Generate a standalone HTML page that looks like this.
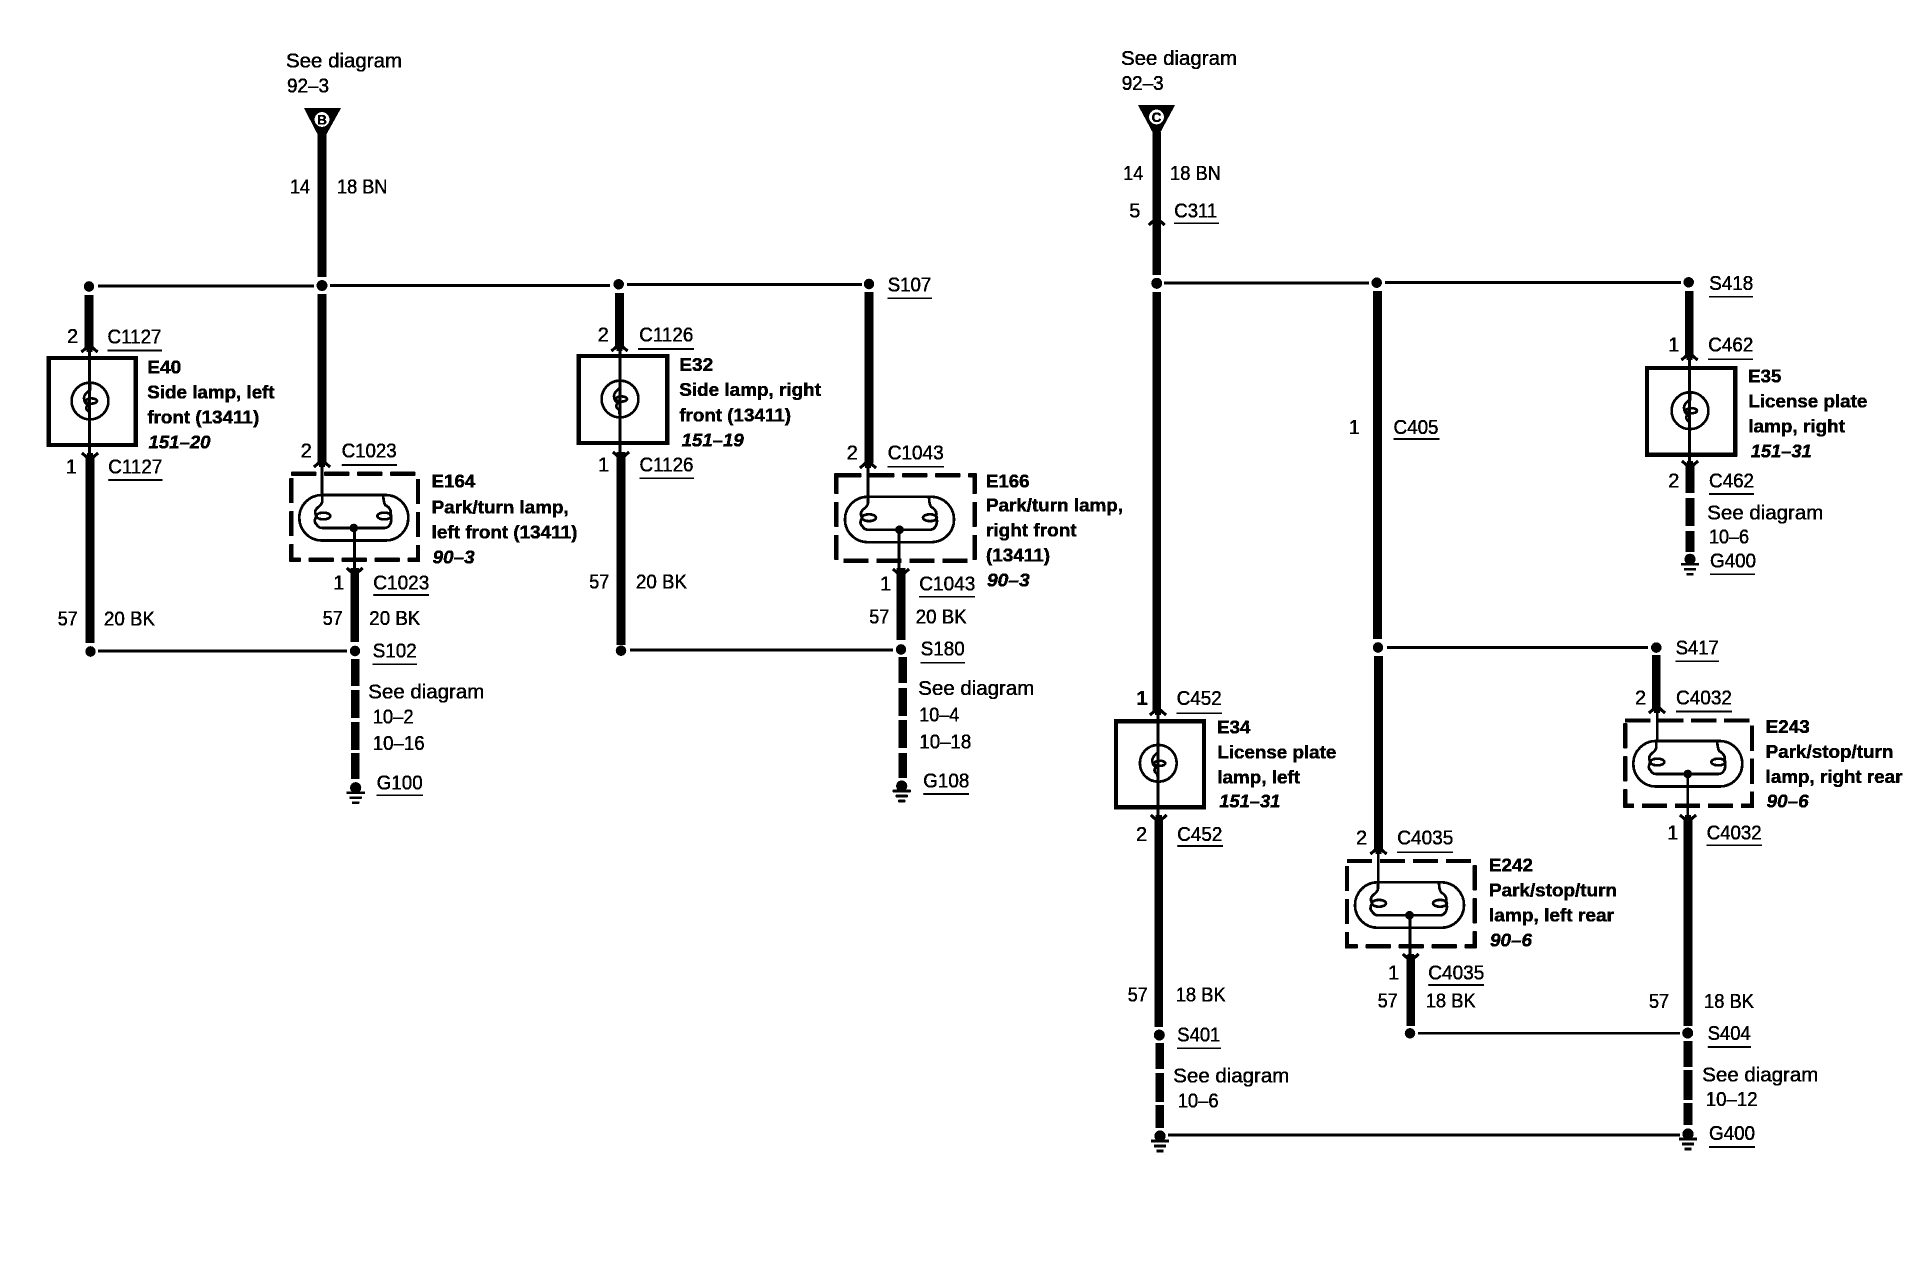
<!DOCTYPE html>
<html><head><meta charset="utf-8"><title>Wiring diagram</title>
<style>
html,body{margin:0;padding:0;background:#fff}
svg{display:block}
text{font-family:"Liberation Sans",sans-serif;font-size:20px;fill:#000;stroke:#000;stroke-width:.3px}
.b{font-weight:bold;font-size:18.5px}
.i{font-weight:bold;font-style:italic;font-size:18.5px}
.thick{fill:none;stroke:#000;stroke-width:8.5}
.thin{fill:none;stroke:#000;stroke-width:2.5}
.ul{fill:none;stroke:#000;stroke-width:1.6}
.box{fill:none;stroke:#000;stroke-width:4}
.dash{fill:none;stroke:#000;stroke-width:4;stroke-dasharray:25 8}
</style></head><body>
<svg xmlns="http://www.w3.org/2000/svg" width="1930" height="1264" viewBox="0 0 1930 1264">
<defs>
<filter id="bin" x="0" y="0" width="100%" height="100%" color-interpolation-filters="sRGB">
<feComponentTransfer><feFuncR type="discrete" tableValues="0 0 1"/><feFuncG type="discrete" tableValues="0 0 1"/><feFuncB type="discrete" tableValues="0 0 1"/></feComponentTransfer>
</filter>
<g id="au"><path d="M-8,6 L0,-1 L8,6" fill="none" stroke="#000" stroke-width="3"/><path d="M-3,6 V1 H3 V6Z" fill="#000"/></g>
<g id="ad"><path d="M-8,-6 L0,1 L8,-6" fill="none" stroke="#000" stroke-width="3"/><path d="M-3,-6 V-1 H3 V-6Z" fill="#000"/></g>
<g id="gnd"><circle r="5.5" cy="0" fill="#000"/><path d="M-9,5 H9" stroke="#000" stroke-width="2.6"/><path d="M-6,10 H6" stroke="#000" stroke-width="2.4"/><path d="M-3.5,15 H3.5" stroke="#000" stroke-width="2.4"/></g>
<g id="lamp" fill="none" stroke="#000" stroke-width="2.5"><circle r="18.4"/><path d="M0,-18 V-11 Q-6,-7 -6,-3 Q-6,2 -2,4 Q-6,7 -1,11 L0,18"/><ellipse cx="1.5" cy="0" rx="5.5" ry="2.6"/></g>
<g id="pill" fill="none" stroke="#000" stroke-width="2.5"><rect x="0" y="0" width="109" height="45.5" rx="22.75"/><path d="M23,0 V6 Q23,9 19,12 Q14,16 17,21 Q14,27 17,29 Q19,33 23,33 H85 Q89,33 91,29 Q93,24 91,20 Q93,14 86,10 Q84,7 84,0"/><ellipse cx="24" cy="21" rx="7" ry="3.4"/><ellipse cx="85" cy="21" rx="7" ry="3.4"/><circle cx="54.5" cy="33" r="3" fill="#000"/></g>
</defs>
<g filter="url(#bin)">
<rect width="1930" height="1264" fill="#fff"/>

<!-- heavy wires -->
<path class="thick" d="M322,133V277M322,294V462
M89,295V347M90,456V643
M619.5,293V346M621,452V645
M869,292V463M901,568V640
M354.7,568V642
M355.3,659V686M355.3,690V718M355.3,722V750M355.3,753V779
M902.7,657V683M902.7,688V716M902.7,720V748M902.7,753V778
M1156.7,132V275M1156.7,292V712M1158.7,818V1027
M1159.7,1043V1069M1159.7,1073V1102M1159.7,1105V1128
M1377.5,291V639M1378.5,656V850
M1410.7,955V1026
M1656.3,655V709
M1688,817V1026
M1688,1041V1067M1688,1070V1100M1688,1103V1125
M1689.3,291V357M1690,463V493M1690,498V526M1690,531V552"/>

<!-- thin wires -->
<path class="thin" d="M98,286H314M330,285.5H610M627,284.5H862
M98,651H347
M630,650H893
M1164,283H1369M1385,282.5H1681
M1387,647.5H1648
M1418,1033.3H1680
M1168,1135H1680
M89.5,346V458M620,345V458M1158,710V820M1689.5,356V466
M322,461V496M868,463V498M1378.3,848V883M1657.3,708V742
M354.5,528V572M899,529V572M1410,914V958M1687.7,774V818"/>

<!-- dots -->
<g fill="#000">
<circle cx="89" cy="286.5" r="5.2"/><circle cx="322" cy="285.5" r="5.4"/><circle cx="618.7" cy="284.3" r="5.2"/><circle cx="869" cy="284" r="5.2"/>
<circle cx="90.5" cy="651.5" r="5.2"/><circle cx="355" cy="651" r="5.2"/><circle cx="621" cy="650.7" r="5.2"/><circle cx="901" cy="649.5" r="5.2"/>
<circle cx="1156.7" cy="283.3" r="5.4"/><circle cx="1376.7" cy="282.7" r="5.2"/><circle cx="1688.7" cy="282.3" r="5.2"/>
<circle cx="1378" cy="647.5" r="5.2"/><circle cx="1656.3" cy="647.6" r="5.2"/>
<circle cx="1159.3" cy="1035" r="5.4"/><circle cx="1410" cy="1033.3" r="5.2"/><circle cx="1687.7" cy="1033" r="5.4"/>
<path d="M304,108H341L326,135H318Z"/><path d="M1138,105H1175L1160.5,132H1152.5Z"/>
</g>
<circle cx="322" cy="119.5" r="7.5" fill="#fff"/><circle cx="1156.5" cy="117" r="7.5" fill="#fff"/>
<text class="b" x="322" y="124.5" text-anchor="middle" style="font-size:13.5px">B</text>
<text class="b" x="1156.5" y="122" text-anchor="middle" style="font-size:13.5px">C</text>

<!-- boxes -->
<rect class="box" x="48.7" y="358" width="87" height="87"/>
<rect class="box" x="578.7" y="356" width="88.6" height="87"/>
<rect class="box" x="1116" y="721.3" width="88" height="86"/>
<rect class="box" x="1647" y="368" width="88.3" height="86.7"/>
<use href="#lamp" x="90" y="401"/><use href="#lamp" x="620" y="399"/><use href="#lamp" x="1158.3" y="763.3"/><use href="#lamp" x="1690" y="410.7"/>

<rect class="dash" x="291.3" y="473.7" width="126.7" height="86"/>
<rect class="dash" x="836.3" y="475.3" width="138.4" height="85.4"/>
<rect class="dash" x="1347" y="861" width="127.7" height="85.3"/>
<rect class="dash" x="1625.3" y="720.5" width="126.7" height="85.2"/>
<use href="#pill" x="299.3" y="495"/><use href="#pill" x="845" y="496.7"/><use href="#pill" x="1355" y="882.3"/><use href="#pill" x="1633.3" y="741"/>

<!-- arrows -->
<use href="#au" x="89.5" y="346"/><use href="#au" x="322" y="461"/><use href="#au" x="619.5" y="345"/><use href="#au" x="868" y="462"/>
<use href="#au" x="1156.7" y="219"/><use href="#au" x="1158" y="709"/><use href="#au" x="1378.5" y="848"/><use href="#au" x="1657" y="707"/><use href="#au" x="1689.5" y="354"/>
<use href="#ad" x="90" y="459"/><use href="#ad" x="621" y="458"/><use href="#ad" x="354.7" y="574"/><use href="#ad" x="901" y="575"/>
<use href="#ad" x="1158.7" y="821"/><use href="#ad" x="1410.7" y="960"/><use href="#ad" x="1688" y="821"/><use href="#ad" x="1690" y="467"/>

<!-- grounds -->
<use href="#gnd" x="355.7" y="787.7"/><use href="#gnd" x="901.7" y="786"/><use href="#gnd" x="1690" y="559.3"/><use href="#gnd" x="1160" y="1136"/><use href="#gnd" x="1688" y="1134"/>

<!-- underlines -->
<path class="ul" d="M107.5,350.6H162M108.3,480H162.5
M341.7,465H397M373.3,595H429M372.7,664.3H417M376.7,795.3H423
M638,349H694M639.5,478.3H694
M887.7,298.3H932M887.7,466.7H944M919.3,596.7H975M920.7,662.7H965M923.3,794H969
M1174.3,223.3H1219M1393.5,439H1439.5
M1176.7,713.3H1222M1177.3,846H1223M1177.3,1048.3H1221
M1397.3,852.3H1453M1428.3,985H1484
M1709.3,296.7H1753M1708.3,359.3H1753M1709,494H1754M1710,574.3H1755
M1675.7,661.3H1719M1676,711.6H1732M1706.7,845.2H1762M1707.7,1047H1751M1709,1147H1755"/>

<!-- text: left half -->
<text x="286" y="67.5" textLength="116" lengthAdjust="spacingAndGlyphs">See diagram</text>
<text x="287" y="92.3" textLength="42" lengthAdjust="spacingAndGlyphs">92–3</text>
<text x="290" y="193.5" textLength="20" lengthAdjust="spacingAndGlyphs">14</text>
<text x="337" y="193.5" textLength="50.5" lengthAdjust="spacingAndGlyphs">18 BN</text>

<text x="67" y="343">2</text>
<text x="107.5" y="343.5" textLength="54" lengthAdjust="spacingAndGlyphs">C1127</text>
<text class="b" x="147.3" y="373.3" textLength="34" lengthAdjust="spacingAndGlyphs">E40</text>
<text class="b" x="147.3" y="398.3" textLength="127.4" lengthAdjust="spacingAndGlyphs">Side lamp, left</text>
<text class="b" x="147.3" y="423.3" textLength="112" lengthAdjust="spacingAndGlyphs">front (13411)</text>
<text class="i" x="148.5" y="448.3" textLength="62" lengthAdjust="spacingAndGlyphs">151–20</text>
<text x="65.8" y="473.3">1</text>
<text x="108.3" y="473.3" textLength="54" lengthAdjust="spacingAndGlyphs">C1127</text>
<text x="57.7" y="625.7" textLength="20" lengthAdjust="spacingAndGlyphs">57</text>
<text x="104" y="625.7" textLength="51" lengthAdjust="spacingAndGlyphs">20 BK</text>

<text x="300.7" y="457.3">2</text>
<text x="341.7" y="457.3" textLength="55" lengthAdjust="spacingAndGlyphs">C1023</text>
<text class="b" x="431.7" y="487.7" textLength="43.5" lengthAdjust="spacingAndGlyphs">E164</text>
<text class="b" x="431.7" y="513.3" textLength="137" lengthAdjust="spacingAndGlyphs">Park/turn lamp,</text>
<text class="b" x="431.7" y="538.3" textLength="145.7" lengthAdjust="spacingAndGlyphs">left front (13411)</text>
<text class="i" x="432.7" y="563.3" textLength="42" lengthAdjust="spacingAndGlyphs">90–3</text>
<text x="333.3" y="589.3">1</text>
<text x="373.3" y="589.3" textLength="56" lengthAdjust="spacingAndGlyphs">C1023</text>
<text x="322.7" y="625" textLength="20" lengthAdjust="spacingAndGlyphs">57</text>
<text x="369.3" y="625" textLength="51" lengthAdjust="spacingAndGlyphs">20 BK</text>
<text x="372.7" y="657.3" textLength="44" lengthAdjust="spacingAndGlyphs">S102</text>
<text x="368.3" y="698.3" textLength="116" lengthAdjust="spacingAndGlyphs">See diagram</text>
<text x="372.7" y="723.3" textLength="41" lengthAdjust="spacingAndGlyphs">10–2</text>
<text x="372.7" y="750" textLength="52" lengthAdjust="spacingAndGlyphs">10–16</text>
<text x="376.7" y="789.3" textLength="46" lengthAdjust="spacingAndGlyphs">G100</text>

<text x="597.7" y="341.7">2</text>
<text x="639.3" y="341.7" textLength="54" lengthAdjust="spacingAndGlyphs">C1126</text>
<text class="b" x="679.3" y="371" textLength="34" lengthAdjust="spacingAndGlyphs">E32</text>
<text class="b" x="679.3" y="396" textLength="141.7" lengthAdjust="spacingAndGlyphs">Side lamp, right</text>
<text class="b" x="679.3" y="421.7" textLength="111.7" lengthAdjust="spacingAndGlyphs">front (13411)</text>
<text class="i" x="681.7" y="446.7" textLength="62" lengthAdjust="spacingAndGlyphs">151–19</text>
<text x="598" y="471.7">1</text>
<text x="639.5" y="471.7" textLength="54" lengthAdjust="spacingAndGlyphs">C1126</text>
<text x="589.3" y="588.3" textLength="20" lengthAdjust="spacingAndGlyphs">57</text>
<text x="636" y="588.3" textLength="51" lengthAdjust="spacingAndGlyphs">20 BK</text>

<text x="887.7" y="291.7" textLength="43.5" lengthAdjust="spacingAndGlyphs">S107</text>
<text x="846.7" y="459.3">2</text>
<text x="887.7" y="459.3" textLength="56" lengthAdjust="spacingAndGlyphs">C1043</text>
<text class="b" x="986" y="487.3" textLength="43.5" lengthAdjust="spacingAndGlyphs">E166</text>
<text class="b" x="986" y="511.7" textLength="137" lengthAdjust="spacingAndGlyphs">Park/turn lamp,</text>
<text class="b" x="986" y="536.7" textLength="90.7" lengthAdjust="spacingAndGlyphs">right front</text>
<text class="b" x="986" y="561.7" textLength="64" lengthAdjust="spacingAndGlyphs">(13411)</text>
<text class="i" x="987" y="586.7" textLength="42.7" lengthAdjust="spacingAndGlyphs">90–3</text>
<text x="880" y="590.7">1</text>
<text x="919.3" y="590.7" textLength="56" lengthAdjust="spacingAndGlyphs">C1043</text>
<text x="869.3" y="623.3" textLength="20" lengthAdjust="spacingAndGlyphs">57</text>
<text x="915.7" y="623.3" textLength="51" lengthAdjust="spacingAndGlyphs">20 BK</text>
<text x="920.7" y="655.7" textLength="44" lengthAdjust="spacingAndGlyphs">S180</text>
<text x="918.3" y="695" textLength="116" lengthAdjust="spacingAndGlyphs">See diagram</text>
<text x="919.3" y="721.7" textLength="40" lengthAdjust="spacingAndGlyphs">10–4</text>
<text x="919.3" y="748.3" textLength="52" lengthAdjust="spacingAndGlyphs">10–18</text>
<text x="923.3" y="787.3" textLength="46" lengthAdjust="spacingAndGlyphs">G108</text>

<!-- text: right half -->
<text x="1121" y="65" textLength="116" lengthAdjust="spacingAndGlyphs">See diagram</text>
<text x="1121.7" y="90" textLength="42" lengthAdjust="spacingAndGlyphs">92–3</text>
<text x="1123.3" y="180" textLength="20" lengthAdjust="spacingAndGlyphs">14</text>
<text x="1170" y="180" textLength="51" lengthAdjust="spacingAndGlyphs">18 BN</text>
<text x="1129.3" y="217.3">5</text>
<text x="1174.3" y="217.3" textLength="43" lengthAdjust="spacingAndGlyphs">C311</text>
<text x="1348.7" y="434">1</text>
<text x="1393.5" y="434" textLength="45" lengthAdjust="spacingAndGlyphs">C405</text>

<text class="b" x="1136.5" y="705" style="font-size:20px">1</text>
<text x="1176.7" y="705" textLength="45" lengthAdjust="spacingAndGlyphs">C452</text>
<text class="b" x="1217.3" y="733.3" textLength="33" lengthAdjust="spacingAndGlyphs">E34</text>
<text class="b" x="1217.3" y="758.3" textLength="119" lengthAdjust="spacingAndGlyphs">License plate</text>
<text class="b" x="1217.3" y="783.3" textLength="82.7" lengthAdjust="spacingAndGlyphs">lamp, left</text>
<text class="i" x="1219.3" y="807.3" textLength="61" lengthAdjust="spacingAndGlyphs">151–31</text>
<text x="1136" y="841">2</text>
<text x="1177.3" y="841" textLength="45" lengthAdjust="spacingAndGlyphs">C452</text>
<text x="1127.7" y="1001.7" textLength="20" lengthAdjust="spacingAndGlyphs">57</text>
<text x="1175.7" y="1001.7" textLength="50" lengthAdjust="spacingAndGlyphs">18 BK</text>
<text x="1177.3" y="1041.7" textLength="43" lengthAdjust="spacingAndGlyphs">S401</text>
<text x="1173.3" y="1082.7" textLength="116" lengthAdjust="spacingAndGlyphs">See diagram</text>
<text x="1177.7" y="1107.7" textLength="41" lengthAdjust="spacingAndGlyphs">10–6</text>

<text x="1356" y="844.3">2</text>
<text x="1397.3" y="844.3" textLength="56" lengthAdjust="spacingAndGlyphs">C4035</text>
<text class="b" x="1489" y="871.7" textLength="44" lengthAdjust="spacingAndGlyphs">E242</text>
<text class="b" x="1489" y="896.7" textLength="128" lengthAdjust="spacingAndGlyphs">Park/stop/turn</text>
<text class="b" x="1489" y="921.7" textLength="125" lengthAdjust="spacingAndGlyphs">lamp, left rear</text>
<text class="i" x="1490" y="946.7" textLength="42" lengthAdjust="spacingAndGlyphs">90–6</text>
<text x="1388" y="979.3">1</text>
<text x="1428.3" y="979.3" textLength="56" lengthAdjust="spacingAndGlyphs">C4035</text>
<text x="1377.7" y="1007.7" textLength="20" lengthAdjust="spacingAndGlyphs">57</text>
<text x="1425.7" y="1007.7" textLength="50" lengthAdjust="spacingAndGlyphs">18 BK</text>

<text x="1709.3" y="290" textLength="44" lengthAdjust="spacingAndGlyphs">S418</text>
<text x="1668.3" y="351.7">1</text>
<text x="1708.3" y="351.7" textLength="45" lengthAdjust="spacingAndGlyphs">C462</text>
<text class="b" x="1748.3" y="382.7" textLength="33" lengthAdjust="spacingAndGlyphs">E35</text>
<text class="b" x="1748.3" y="407.7" textLength="119" lengthAdjust="spacingAndGlyphs">License plate</text>
<text class="b" x="1748.3" y="432.7" textLength="96.7" lengthAdjust="spacingAndGlyphs">lamp, right</text>
<text class="i" x="1750.7" y="457.3" textLength="61" lengthAdjust="spacingAndGlyphs">151–31</text>
<text x="1668.3" y="487.3">2</text>
<text x="1709" y="487.3" textLength="45" lengthAdjust="spacingAndGlyphs">C462</text>
<text x="1707.3" y="519.3" textLength="116" lengthAdjust="spacingAndGlyphs">See diagram</text>
<text x="1709" y="543.3" textLength="40" lengthAdjust="spacingAndGlyphs">10–6</text>
<text x="1710" y="567.7" textLength="46" lengthAdjust="spacingAndGlyphs">G400</text>

<text x="1675.7" y="654.5" textLength="43" lengthAdjust="spacingAndGlyphs">S417</text>
<text x="1635" y="704.4">2</text>
<text x="1676" y="704.4" textLength="56" lengthAdjust="spacingAndGlyphs">C4032</text>
<text class="b" x="1765.7" y="733" textLength="44" lengthAdjust="spacingAndGlyphs">E243</text>
<text class="b" x="1765.7" y="758" textLength="127.7" lengthAdjust="spacingAndGlyphs">Park/stop/turn</text>
<text class="b" x="1765.7" y="783" textLength="136.7" lengthAdjust="spacingAndGlyphs">lamp, right rear</text>
<text class="i" x="1766.7" y="807.7" textLength="42" lengthAdjust="spacingAndGlyphs">90–6</text>
<text x="1667.3" y="839.7">1</text>
<text x="1706.7" y="839.7" textLength="55" lengthAdjust="spacingAndGlyphs">C4032</text>
<text x="1649" y="1007.8" textLength="20" lengthAdjust="spacingAndGlyphs">57</text>
<text x="1704" y="1007.8" textLength="50" lengthAdjust="spacingAndGlyphs">18 BK</text>
<text x="1707.7" y="1040" textLength="43" lengthAdjust="spacingAndGlyphs">S404</text>
<text x="1702.3" y="1081.5" textLength="116" lengthAdjust="spacingAndGlyphs">See diagram</text>
<text x="1705.7" y="1106" textLength="52" lengthAdjust="spacingAndGlyphs">10–12</text>
<text x="1709" y="1140" textLength="46" lengthAdjust="spacingAndGlyphs">G400</text>
</g>
</svg>
</body></html>
